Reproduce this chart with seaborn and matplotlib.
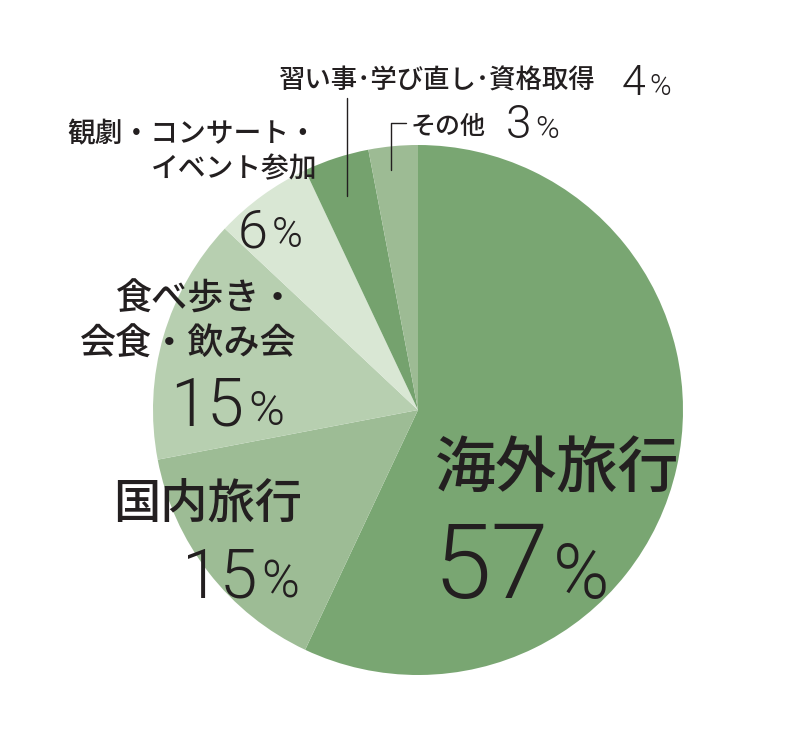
import matplotlib
matplotlib.use('Agg')
import matplotlib.pyplot as plt
import seaborn as sns

sns.set_theme(style='white')
plt.rcParams['font.family'] = ['Noto Sans CJK JP', 'DejaVu Sans']

# data
categories = ['海外旅行', '国内旅行', '食べ歩き・\n会食・飲み会',
              '観劇・コンサート・\nイベント参加', '習い事･学び直し･資格取得', 'その他']
values = [57, 15, 15, 6, 4, 3]
colors = ['#79a672', '#9dbc95', '#b7cfb0', '#d9e7d4', '#75a26e', '#9dbb94']

H = 743  # figure height in px, y measured from top below

fig = plt.figure(figsize=(7.88, 7.43), dpi=100)
ax = fig.add_axes([0, 0, 1, 1])

ax.pie(values, colors=colors, startangle=90, counterclock=False,
       center=(418, H - 410), radius=265, wedgeprops=dict(linewidth=0))
ax.set_xlim(0, 788)
ax.set_ylim(0, H)
ax.set_aspect('equal')
ax.axis('off')

ink = '#231f20'

# label layout: (ha, x, [baselines], size)
label_pos = [
    ('center', 557, [488], 44),
    ('left', 113, [519], 34),
    ('right', 297, [310, 355], 26),
    ('right', 317, [142, 177], 20),
    ('left', 279, [89], 19),
    ('left', 411, [134], 18),
]
# percent layout: (x split, baseline, digit size, % size)
pct_pos = [
    (551, 598, 75, 55),
    (259, 597, 49, 37),
    (246, 425, 48, 35),
    (270, 247, 39, 30),
    (647, 95, 31, 21),
    (533, 138, 33, 23),
]

num_font = dict(family=['Roboto', 'DejaVu Sans'], fontweight=300, color=ink)

for cat, v, (ha, x, ys, fs), (xs, yb, ds, ps) in zip(categories, values, label_pos, pct_pos):
    for line, y in zip(cat.split('\n'), ys):
        ax.text(x, H - y, line, ha=ha, va='baseline', fontsize=fs,
                color=ink, fontweight='medium')
    ax.text(xs - 2, H - yb, str(v), ha='right', va='baseline', fontsize=ds, **num_font)
    ax.text(xs + 2, H - yb, '%', ha='left', va='baseline', fontsize=ps, **num_font)

# leader lines for the two small slices
ax.plot([347, 347], [H - 98, H - 196], color=ink, lw=1)
ax.plot([406, 391, 391], [H - 123, H - 123, H - 170], color=ink, lw=1)

fig.savefig('out.png', dpi=100)
